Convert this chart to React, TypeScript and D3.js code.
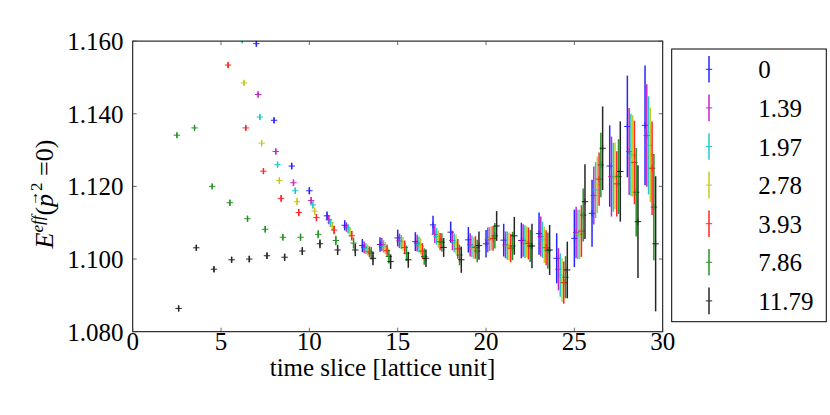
import * as d3 from 'd3'

// momentum labels (legend) and colours
const momenta = ['0', '1.39', '1.97', '2.78', '3.93', '7.86', '11.79']
const colors = ['#0000ff', '#bf00bf', '#00bfbf', '#bfbf00', '#ff0000', '#008000', '#000000']

// first time slice of every series (earlier ones are off the top of the axis)
const startSlice = [7, 7, 6, 6, 5, 2, 2]

// effective energy per time slice
const val0 = [1.1593, 1.1382, 1.1256, 1.1188, 1.1119, 1.1093, 1.1037, 1.104, 1.1058, 1.1048, 1.1094, 1.1074, 1.1053, 1.1042, 1.1052, 1.1051, 1.107, 1.1002, 1.1057, 1.1126, 1.1256, 1.1365, 1.1368]
const err0 = [0.0008, 0.0008, 0.0009, 0.001, 0.0012, 0.0014, 0.0018, 0.002, 0.0023, 0.0026, 0.0025, 0.0029, 0.0035, 0.0038, 0.0045, 0.0049, 0.0058, 0.0069, 0.0079, 0.0092, 0.0112, 0.014, 0.0165]
const val1 = [1.1453, 1.1296, 1.121, 1.1161, 1.1108, 1.1088, 1.1032, 1.104, 1.105, 1.1044, 1.1068, 1.1051, 1.1039, 1.1053, 1.1039, 1.1051, 1.1062, 1.0972, 1.1073, 1.1175, 1.1227, 1.1296, 1.134]
const err1 = [0.0008, 0.0008, 0.0009, 0.001, 0.0012, 0.0013, 0.0016, 0.0018, 0.002, 0.0023, 0.0024, 0.0027, 0.0032, 0.0034, 0.0037, 0.0045, 0.0055, 0.0058, 0.0071, 0.008, 0.011, 0.012, 0.0141]
const val2 = [1.1602, 1.1391, 1.126, 1.1188, 1.1149, 1.11, 1.1083, 1.1029, 1.1035, 1.1047, 1.104, 1.1062, 1.1045, 1.1035, 1.1055, 1.1037, 1.1048, 1.1053, 1.0956, 1.1068, 1.119, 1.1225, 1.1287, 1.1313]
const err2 = [0.0008, 0.0008, 0.0008, 0.0009, 0.001, 0.0011, 0.0013, 0.0015, 0.0017, 0.0019, 0.0022, 0.0023, 0.0026, 0.003, 0.0033, 0.0039, 0.0045, 0.005, 0.006, 0.0068, 0.0077, 0.0095, 0.0113, 0.0135]
const val3 = [1.1485, 1.1319, 1.1216, 1.1158, 1.1132, 1.109, 1.1075, 1.1025, 1.103, 1.1042, 1.1035, 1.1055, 1.104, 1.103, 1.1057, 1.1034, 1.1047, 1.1039, 1.0942, 1.1068, 1.1204, 1.1229, 1.1284, 1.1287]
const err3 = [0.0008, 0.0008, 0.0009, 0.001, 0.001, 0.0011, 0.0013, 0.0015, 0.0017, 0.0019, 0.0022, 0.0024, 0.0027, 0.003, 0.0033, 0.0039, 0.0043, 0.005, 0.006, 0.0068, 0.0078, 0.0092, 0.0112, 0.013]
const val4 = [1.1534, 1.1361, 1.1242, 1.1167, 1.1128, 1.1114, 1.108, 1.1064, 1.102, 1.1023, 1.1032, 1.1022, 1.1048, 1.1028, 1.1032, 1.1057, 1.103, 1.1043, 1.1031, 1.0935, 1.1077, 1.122, 1.1207, 1.1266, 1.125]
const err4 = [0.0008, 0.0008, 0.0008, 0.0009, 0.001, 0.001, 0.0012, 0.0013, 0.0015, 0.0017, 0.0019, 0.0022, 0.0024, 0.0027, 0.0031, 0.0034, 0.0039, 0.0044, 0.0048, 0.0058, 0.0071, 0.0073, 0.009, 0.0115, 0.0129]
const val5 = [1.1341, 1.1361, 1.12, 1.1155, 1.1111, 1.1082, 1.106, 1.106, 1.1068, 1.1051, 1.1044, 1.1016, 1.1007, 1.1016, 1.1007, 1.1046, 1.1011, 1.1022, 1.1064, 1.1036, 1.1036, 1.1023, 1.095, 1.1121, 1.1259, 1.1227, 1.1184, 1.1143]
const err5 = [0.0007, 0.0007, 0.0007, 0.0008, 0.0008, 0.0009, 0.0009, 0.001, 0.0011, 0.0013, 0.0015, 0.0017, 0.0019, 0.0021, 0.0023, 0.0025, 0.0028, 0.0031, 0.0035, 0.0039, 0.0044, 0.005, 0.0058, 0.0073, 0.0089, 0.0103, 0.0122, 0.0146]
const val6 = [1.0864, 1.1031, 1.0972, 1.0998, 1.1, 1.1009, 1.1005, 1.1022, 1.1042, 1.1025, 1.1025, 1.1002, 1.0993, 1.0998, 1.1002, 1.1032, 1.0998, 1.1037, 1.1091, 1.1064, 1.1036, 1.1025, 1.097, 1.1158, 1.1305, 1.1241, 1.1103, 1.1042]
const err6 = [0.0008, 0.0008, 0.0008, 0.0008, 0.0009, 0.0009, 0.001, 0.0011, 0.0012, 0.0014, 0.0017, 0.0019, 0.002, 0.0022, 0.0024, 0.0026, 0.0036, 0.0039, 0.0041, 0.0052, 0.0061, 0.0069, 0.0078, 0.0103, 0.0115, 0.0138, 0.0155, 0.0186]

const values = [val0, val1, val2, val3, val4, val5, val6]
const errors = [err0, err1, err2, err3, err4, err5, err6]

const xTicks = [0, 5, 10, 15, 20, 25, 30]
const yTicks = [1.08, 1.1, 1.12, 1.14, 1.16]

const W = 830
const H = 415
const left = 132.7
const right = 662.7
const top = 41.1
const bottom = 331.7
const font = '"Liberation Serif", "DejaVu Serif", serif'

export default function App() {
  const x = d3.scaleLinear().domain([0, 30]).range([left, right])
  const y = d3.scaleLinear().domain([1.08, 1.16]).range([bottom, top])

  // every series is shifted a little along x so the bars don't overlap
  const points = values.flatMap((vals, s) =>
    vals.map((v, i) => ({
      s,
      t: startSlice[s] + i + 0.1 * s,
      v,
      e: errors[s][i],
    }))
  )

  const tick = 4
  const m = 3.2

  return (
    <svg width={W} height={H} style={{ position: 'absolute', left: 0, top: 0, background: '#fff' }} fontFamily={font}>
      <defs>
        <clipPath id="plot">
          <rect x={left} y={top} width={right - left} height={bottom - top} />
        </clipPath>
      </defs>

      <g clipPath="url(#plot)">
        {points.map((p, i) => {
          const cx = x(p.t)
          const cy = y(p.v)
          return (
            <g key={i} stroke={colors[p.s]} opacity={0.85}>
              <line x1={cx} x2={cx} y1={y(p.v - p.e)} y2={y(p.v + p.e)} strokeWidth={1.5} />
              <line x1={cx - m} x2={cx + m} y1={cy} y2={cy} strokeWidth={1} />
              <line x1={cx} x2={cx} y1={cy - m} y2={cy + m} strokeWidth={1} />
            </g>
          )
        })}
      </g>

      {/* frame and inward ticks on all sides */}
      <rect x={left} y={top} width={right - left} height={bottom - top} fill="none" stroke="#000" strokeWidth={1} />
      {xTicks.map((t) => (
        <g key={'x' + t} stroke="#444" strokeWidth={0.8}>
          <line x1={x(t)} x2={x(t)} y1={bottom} y2={bottom - tick} />
          <line x1={x(t)} x2={x(t)} y1={top} y2={top + tick} />
        </g>
      ))}
      {yTicks.map((t) => (
        <g key={'y' + t} stroke="#444" strokeWidth={0.8}>
          <line x1={left} x2={left + tick} y1={y(t)} y2={y(t)} />
          <line x1={right} x2={right - tick} y1={y(t)} y2={y(t)} />
        </g>
      ))}

      {xTicks.map((t) => (
        <text key={'xl' + t} x={x(t)} y={350} textAnchor="middle" fontSize={25}>
          {t}
        </text>
      ))}
      {yTicks.map((t) => (
        <text key={'yl' + t} x={123.5} y={y(t) + 9} textAnchor="end" fontSize={25}>
          {d3.format('.3f')(t)}
        </text>
      ))}

      <text x={382.5} y={376} textAnchor="middle" fontSize={25}>
        time slice [lattice unit]
      </text>

      <g transform="translate(53,194) rotate(-90)">
        <text textAnchor="middle" fontSize={26}>
          <tspan fontStyle="italic">E</tspan>
          <tspan fontStyle="italic" fontSize={17} dy={-10}>eff</tspan>
          <tspan dy={10}>(</tspan>
          <tspan fontStyle="italic">p</tspan>
          <tspan fontSize={15} dx={-12} dy={-15}>→</tspan>
          <tspan fontSize={17} dx={0} dy={4}>2</tspan>
          <tspan dy={11}>{'  =0)'}</tspan>
        </text>
      </g>

      {/* legend */}
      <rect x={671.7} y={49} width={154.6} height={272.7} fill="#fff" stroke="#000" strokeWidth={1} />
      {momenta.map((label, s) => {
        const cy = 69.3 + s * 38.6
        return (
          <g key={label}>
            <g stroke={colors[s]} opacity={0.85}>
              <line x1={709} x2={709} y1={cy - 13.3} y2={cy + 13.3} strokeWidth={1.5} />
              <line x1={709 - m} x2={709 + m} y1={cy} y2={cy} strokeWidth={1} />
            </g>
            <text x={758.3} y={cy + 9} fontSize={25}>
              {label}
            </text>
          </g>
        )
      })}
    </svg>
  )
}
